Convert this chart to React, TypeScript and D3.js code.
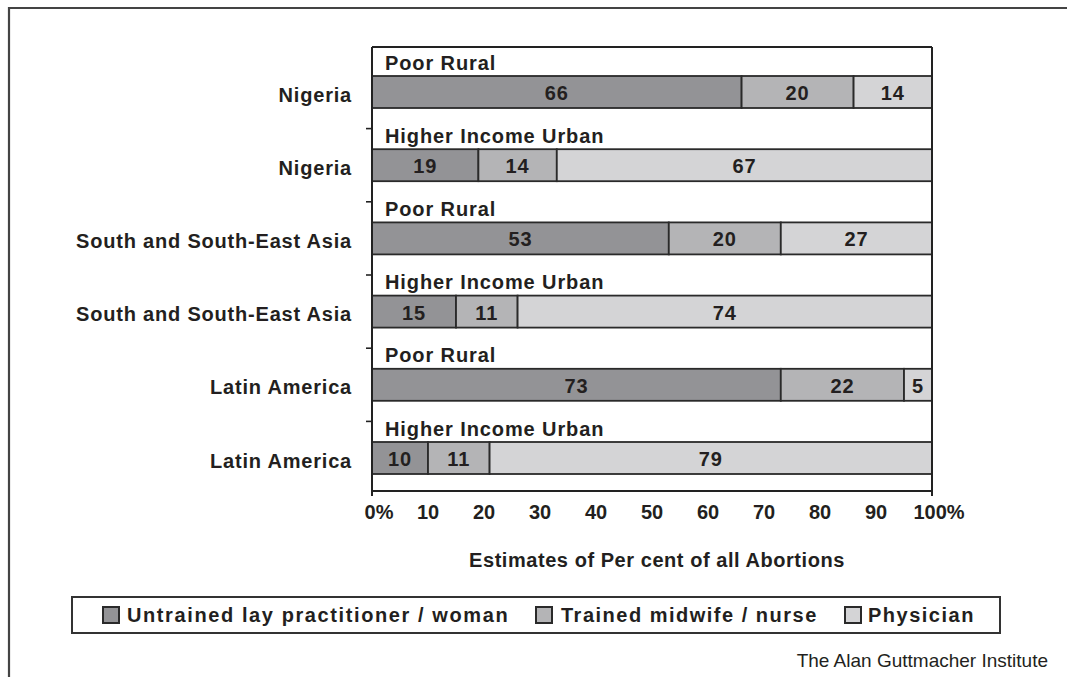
import * as d3 from "d3";

// rows, top to bottom
const regions = [
  "Nigeria",
  "Nigeria",
  "South and South-East Asia",
  "South and South-East Asia",
  "Latin America",
  "Latin America",
];
const groups = [
  "Poor Rural",
  "Higher Income Urban",
  "Poor Rural",
  "Higher Income Urban",
  "Poor Rural",
  "Higher Income Urban",
];

// per cent of abortions by provider
const untrained = [66, 19, 53, 15, 73, 10];
const trained = [20, 14, 20, 11, 22, 11];
const physician = [14, 67, 27, 74, 5, 79];

const seriesNames = [
  "Untrained lay practitioner / woman",
  "Trained midwife / nurse",
  "Physician",
];
const seriesColors = ["#939396", "#b4b4b6", "#d4d4d6"];

const xTicks = [0, 10, 20, 30, 40, 50, 60, 70, 80, 90, 100];

const W = 1067;
const H = 677;
const ink = "#231f20";
const font = "'Liberation Sans', Arial, Helvetica, sans-serif";

export default function App() {
  const left = 372;
  const right = 932;
  const top = 47;
  const bottom = 491;

  const x = d3.scaleLinear().domain([0, 100]).range([left, right]);
  const rowIdx = d3.range(regions.length).map(String);
  const y = d3.scaleBand().domain(rowIdx).range([55.4, 494.6]);
  const barH = 32;

  const rows = regions.map((r, i) => ({ region: r, group: groups[i], vals: [untrained[i], trained[i], physician[i]] }));

  // stack the three series per row
  const stacked = d3.stack<number[], number>()
    .keys([0, 1, 2])
    .value((d, k) => d[k])(rows.map(r => r.vals));

  // legend layout
  const legendSquares = [103, 536, 845];
  const legendText = [127, 561, 868];
  const legendSpacing = [1.6, 1.5, 1.5];

  return (
    <svg width={W} height={H} style={{ position: "absolute", left: 0, top: 0, background: "#fff" }} fontFamily={font}>
      {/* outer frame (top and left only) */}
      <path d={`M9,${H} L9,8 L${W},8`} fill="none" stroke="#444" strokeWidth={2.2} />

      {/* bars */}
      {stacked.map((layer, k) =>
        layer.map((seg, i) => {
          const yc = (y(String(i)) as number) + y.bandwidth() / 2;
          const x0 = x(seg[0]);
          const x1 = x(seg[1]);
          const v = rows[i].vals[k];
          return (
            <g key={`${k}-${i}`}>
              <rect x={x0} y={yc - barH / 2} width={x1 - x0} height={barH}
                fill={seriesColors[k]} stroke="#2a2a2a" strokeWidth={1.8} />
              <text x={(x0 + x1) / 2} y={yc + 8} textAnchor="middle" fontSize={20}
                fontWeight="bold" letterSpacing={0.9} fill={ink}>{v}</text>
            </g>
          );
        })
      )}

      {/* subgroup labels above bars */}
      {rows.map((r, i) => {
        const yc = (y(String(i)) as number) + y.bandwidth() / 2;
        return (
          <text key={"g" + i} x={left + 13} y={yc - barH / 2 - 6.5} fontSize={20}
            fontWeight="bold" letterSpacing={0.9} fill={ink}>{r.group}</text>
        );
      })}

      {/* region labels */}
      {rows.map((r, i) => {
        const yc = (y(String(i)) as number) + y.bandwidth() / 2;
        return (
          <text key={"r" + i} x={352} y={yc + 9.5} textAnchor="end" fontSize={20}
            fontWeight="bold" letterSpacing={0.8} fill={ink}>{r.region}</text>
        );
      })}

      {/* plot frame */}
      <line x1={left} x2={right} y1={top} y2={top} stroke="#222" strokeWidth={2} />
      <line x1={left} x2={left} y1={top} y2={bottom + 5} stroke="#222" strokeWidth={2} />
      <line x1={right} x2={right} y1={top} y2={bottom + 5} stroke="#222" strokeWidth={2} />
      <line x1={left} x2={right} y1={bottom} y2={bottom} stroke="#222" strokeWidth={2} />

      {/* category ticks between rows */}
      {rowIdx.slice(1).map(d => (
        <line key={"t" + d} x1={left - 6} x2={left} y1={y(d) as number} y2={y(d) as number}
          stroke="#222" strokeWidth={1.6} />
      ))}

      {/* x tick labels */}
      {xTicks.map(t => (
        <text key={"x" + t} x={x(t)} dx={t === 0 || t === 100 ? 7 : 0} y={519} textAnchor="middle"
          fontSize={20} fontWeight="bold" fill={ink}>
          {t === 0 || t === 100 ? `${t}%` : t}
        </text>
      ))}

      {/* axis title */}
      <text x={657} y={567} textAnchor="middle" fontSize={20} fontWeight="bold"
        letterSpacing={0.55} fill={ink}>Estimates of Per cent of all Abortions</text>

      {/* legend */}
      <rect x={72} y={597} width={928} height={36} fill="#fff" stroke="#333" strokeWidth={2} />
      {seriesNames.map((s, k) => (
        <g key={"l" + k}>
          <rect x={legendSquares[k]} y={607} width={16} height={16} fill={seriesColors[k]}
            stroke="#2a2a2a" strokeWidth={2} />
          <text x={legendText[k]} y={622} fontSize={20} fontWeight="bold"
            letterSpacing={legendSpacing[k]} fill={ink}>{s}</text>
        </g>
      ))}

      {/* source */}
      <text x={1048} y={667} textAnchor="end" fontSize={19} fill={ink}>The Alan Guttmacher Institute</text>
    </svg>
  );
}
